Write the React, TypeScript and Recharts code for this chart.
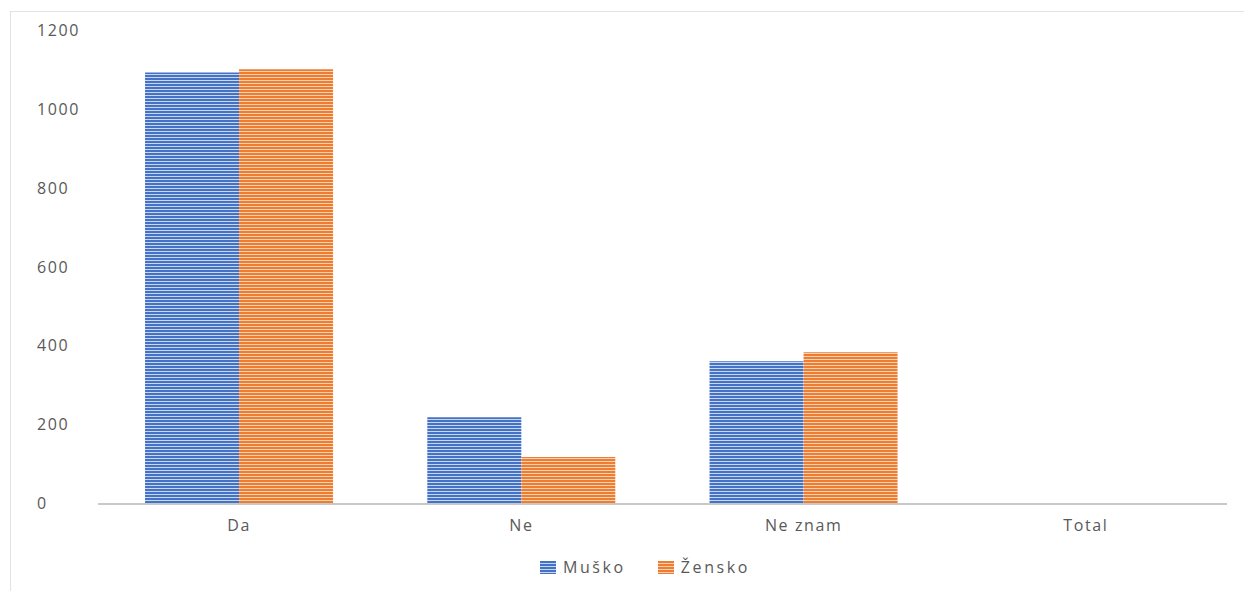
import React from 'react';
import { BarChart, Bar, XAxis, YAxis } from 'recharts';

const categories = ['Da', 'Ne', 'Ne znam', 'Total'];
const muskoValues = [1095, 220, 362, 0];
const zenskoValues = [1103, 119, 385, 0];
const yTicks = [0, 200, 400, 600, 800, 1000, 1200];

const seriesInfo = [
  { key: 'musko', name: 'Muško', color: '#4472C4', light: '#c9d6ef', pattern: 'stripeBlue' },
  { key: 'zensko', name: 'Žensko', color: '#ED7D31', light: '#f9d2b6', pattern: 'stripeOrange' },
];

const data = categories.map((name, i) => ({
  name,
  musko: muskoValues[i],
  zensko: zenskoValues[i],
}));

const textColor = '#595959';
const fontFamily = '"Open Sans", sans-serif';

const YTick = (props: any) => {
  const { y, payload } = props;
  return (
    <text x={37} y={y} dy={5} textAnchor="start" fill={textColor} fontSize={16} fontFamily={fontFamily} letterSpacing={1.6}>
      {payload.value}
    </text>
  );
};

export default function App() {
  return (
    <div style={{ position: 'absolute', left: 0, top: 0, width: 1244, height: 591, background: '#fff' }}>
      <div
        style={{
          position: 'absolute',
          left: 10,
          top: 11,
          width: 1234,
          height: 580,
          borderTop: '1px solid #e3e3e3',
          borderLeft: '1px solid #e3e3e3',
          boxSizing: 'border-box',
        }}
      />
      <div style={{ position: 'absolute', left: 0, top: 0 }}>
        <BarChart
          width={1244}
          height={591}
          data={data}
          margin={{ top: 31, right: 17, left: 0, bottom: 57 }}
          barCategoryGap="16.67%"
          barGap={0}
        >
          <defs>
            {seriesInfo.map((s) => (
              <pattern key={s.pattern} id={s.pattern} patternUnits="userSpaceOnUse" width={6} height={3}>
                <rect x={0} y={0} width={6} height={3} fill={s.light} />
                <rect x={0} y={0} width={6} height={2} fill={s.color} />
              </pattern>
            ))}
          </defs>
          <XAxis
            dataKey="name"
            height={30}
            axisLine={{ stroke: '#c8c8c8', strokeWidth: 2 }}
            tickLine={false}
            tickMargin={10}
            tick={{ fill: textColor, fontSize: 16, fontFamily, letterSpacing: 1.6 }}
          />
          <YAxis
            width={98}
            domain={[0, 1200]}
            ticks={yTicks}
            axisLine={false}
            tickLine={false}
            tick={<YTick />}
          />
          {seriesInfo.map((s) => (
            <Bar key={s.key} dataKey={s.key} name={s.name} fill={`url(#${s.pattern})`} isAnimationActive={false} />
          ))}
        </BarChart>
      </div>
      {/* legend */}
      <div
        style={{
          position: 'absolute',
          left: 0,
          top: 556,
          width: 1290,
          display: 'flex',
          justifyContent: 'center',
          gap: 32,
          fontFamily,
          fontSize: 16,
          color: textColor,
          letterSpacing: 2.6,
        }}
      >
        {seriesInfo.map((s) => (
          <div key={s.key} style={{ display: 'flex', alignItems: 'center' }}>
            <svg width={16} height={13} style={{ marginRight: 7 }}>
              <rect x={0} y={0} width={16} height={13} fill={`url(#${s.pattern})`} />
            </svg>
            <span>{s.name}</span>
          </div>
        ))}
      </div>
    </div>
  );
}
